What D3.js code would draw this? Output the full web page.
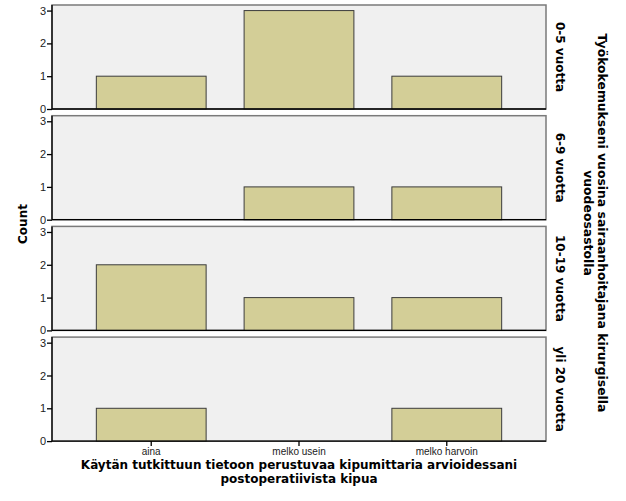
<!DOCTYPE html>
<html><head><meta charset="utf-8">
<script src="https://cdn.jsdelivr.net/npm/d3@7"></script>
<style>body{margin:0;background:#fff}svg{display:block}</style>
</head><body>
<svg id="c" width="626" height="501"></svg>
<script>
const categories = ["aina", "melko usein", "melko harvoin"];
const panels = ["0-5 vuotta", "6-9 vuotta", "10-19 vuotta", "yli 20 vuotta"];
const counts0_5 = [1, 3, 1];
const counts6_9 = [0, 1, 1];
const counts10_19 = [2, 1, 1];
const countsYli20 = [1, 0, 1];
const yTicks = [0, 1, 2, 3];
const xTitle = ["Käytän tutkittuun tietoon perustuvaa kipumittaria arvioidessani", "postoperatiivista kipua"];
const rightTitle = ["Työkokemukseni vuosina sairaanhoitajana kirurgisella", "vuodeosastolla"];
const yTitle = "Count";

const seriesList = [counts0_5, counts6_9, counts10_19, countsYli20];
const svg = d3.select("#c");
const left = 52, right = 546;
const panelTops = [5, 115.7, 226.4, 337.1];
const panelH = 104;

const x = d3.scaleBand().domain(categories).range([left, right]).paddingInner(0.257).paddingOuter(0.3);

panels.forEach((p, i) => {
  const top = panelTops[i], bottom = top + panelH;
  const y = d3.scaleLinear().domain([0, 3.17]).range([bottom, top]);
  const g = svg.append("g");
  g.append("rect").attr("x", left).attr("y", top).attr("width", right - left).attr("height", panelH)
    .attr("fill", "#f0f0f0").attr("stroke", "#7a7a7a").attr("stroke-width", 1.5);
  g.selectAll("rect.bar").data(seriesList[i].map((v, j) => ({c: categories[j], v})).filter(d => d.v > 0))
    .join("rect").attr("class", "bar")
    .attr("x", d => x(d.c)).attr("width", x.bandwidth())
    .attr("y", d => y(d.v)).attr("height", d => y(0) - y(d.v))
    .attr("fill", "#d3ce97").attr("stroke", "#3c3c3c").attr("stroke-width", 1);
  const ya = g.append("g").attr("transform", `translate(${left},0)`)
    .call(d3.axisLeft(y).tickValues(yTicks).tickFormat(d3.format("d")).tickSize(5).tickPadding(1));
  ya.select(".domain").attr("d", `M0,${top}V${bottom}`).attr("stroke", "#000").attr("stroke-width", 1.3);
  ya.selectAll(".tick line").attr("stroke", "#000").attr("stroke-width", 1.3);
  ya.selectAll(".tick text").attr("font-family", "Liberation Sans, Arial, sans-serif").attr("font-size", 11).attr("fill", "#222");
  g.append("line").attr("x1", left).attr("x2", right).attr("y1", bottom).attr("y2", bottom).attr("stroke", "#000").attr("stroke-width", 1.3);
  g.append("text").attr("transform", `translate(${556},${top + panelH / 2}) rotate(90)`)
    .attr("text-anchor", "middle").attr("font-family", "DejaVu Sans, sans-serif").attr("font-weight", "bold")
    .attr("font-size", 12).attr("fill", "#000").text(p);
  if (i === panels.length - 1) {
    const xa = g.append("g").attr("transform", `translate(0,${bottom})`)
      .call(d3.axisBottom(x).tickSize(5).tickPadding(2));
    xa.select(".domain").remove();
    xa.selectAll(".tick line").attr("stroke", "#000").attr("stroke-width", 1.3);
    xa.selectAll(".tick text").attr("font-family", "Liberation Sans, Arial, sans-serif").attr("font-size", 10).attr("fill", "#222");
  }
});

const fnt = "DejaVu Sans, sans-serif";
svg.append("text").attr("x", 299).attr("y", 469).attr("text-anchor", "middle")
  .attr("font-family", fnt).attr("font-weight", "bold").attr("font-size", 12).text(xTitle[0]);
svg.append("text").attr("x", 299).attr("y", 483).attr("text-anchor", "middle")
  .attr("font-family", fnt).attr("font-weight", "bold").attr("font-size", 12).text(xTitle[1]);
svg.append("text").attr("transform", "translate(27,224) rotate(-90)").attr("text-anchor", "middle")
  .attr("font-family", fnt).attr("font-weight", "bold").attr("font-size", 12).text(yTitle);
svg.append("text").attr("transform", "translate(598,223) rotate(90)").attr("text-anchor", "middle")
  .attr("font-family", fnt).attr("font-weight", "bold").attr("font-size", 12.4).text(rightTitle[0]);
svg.append("text").attr("transform", "translate(584,223) rotate(90)").attr("text-anchor", "middle")
  .attr("font-family", fnt).attr("font-weight", "bold").attr("font-size", 12.4).text(rightTitle[1]);
</script>
</body></html>
